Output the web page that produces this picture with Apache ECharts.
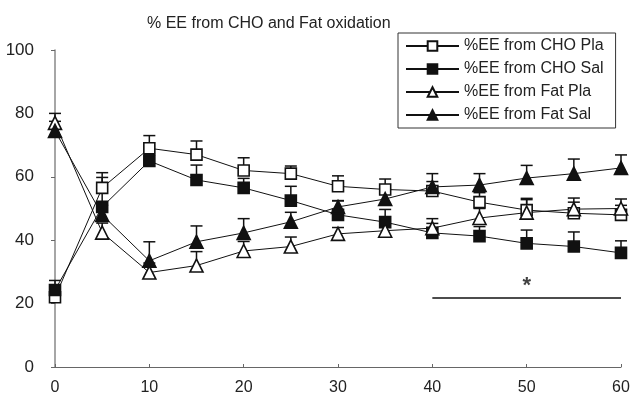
<!DOCTYPE html>
<html>
<head>
<meta charset="utf-8">
<script src="https://cdn.jsdelivr.net/npm/echarts@6/dist/echarts.min.js"></script>
<style>html,body{margin:0;padding:0;background:#fff;}#c{width:634px;height:398px;}</style>
</head>
<body>
<div id="c"></div>
<script>
const times = [0, 5, 10, 15, 20, 25, 30, 35, 40, 45, 50, 55, 60];
const choPla = [22, 56.5, 69, 67, 62, 61, 57, 56, 55.5, 52, 49.5, 48.5, 48];
const choSal = [24.3, 50.5, 65, 59, 56.5, 52.5, 48, 45.7, 42.3, 41.3, 39, 38, 36];
const fatPla = [77, 42.4, 29.8, 32, 36.6, 38, 42, 43, 43.8, 47, 48.7, 49.8, 50];
const fatSal = [74.5, 48, 33.5, 39.5, 42.3, 45.8, 50.5, 53, 56.8, 57.4, 59.6, 61, 62.8];
const choPlaErr = [3, 4.8, 4, 4.3, 4, 2.4, 3.3, 3.3, 3, 3, 3.3, 3.5, 3];
const choSalErr = [3, 9.3, 2, 4.7, 3, 4.5, 4.4, 4, 3, 3, 4.2, 4.6, 3.8];
const fatPlaErr = [3, 3, 3, 4.4, 3, 3, 2, 2, 3, 3, 4.5, 3.5, 3];
const fatSalErr = [3, 3, 6, 5, 4.5, 3, 2, 3, 4.2, 3.6, 4, 4.6, 4.1];
const seriesNames = ['%EE from CHO Pla', '%EE from CHO Sal', '%EE from Fat Pla', '%EE from Fat Sal'];
const sigBar = [[40, 21.8], [60, 21.8]];
const sigMark = [[50, 25.5]];
const xTicks = { min: 0, max: 60, interval: 10 };
const yTicks = { min: 0, max: 100, interval: 20 };

const FONT = '"Liberation Sans", Arial, sans-serif';
const INK = '#111';

function pts(vals) { return times.map((t, i) => [t, vals[i]]); }
function errPts(vals, errs) { return times.map((t, i) => [t, vals[i], errs[i]]); }

function errSeries(vals, errs) {
  return {
    type: 'custom',
    z: 1,
    silent: true,
    data: errPts(vals, errs),
    renderItem: function (params, api) {
      const x = api.value(0), y = api.value(1), e = api.value(2);
      const p0 = api.coord([x, y]);
      const p1 = api.coord([x, y + e]);
      const st = { stroke: INK, lineWidth: 1.5 };
      return {
        type: 'group',
        children: [
          { type: 'line', shape: { x1: p0[0], y1: p0[1], x2: p1[0], y2: p1[1] }, style: st },
          { type: 'line', shape: { x1: p1[0] - 6, y1: p1[1], x2: p1[0] + 6, y2: p1[1] }, style: st }
        ]
      };
    }
  };
}

function lineSeries(name, vals, symbol, size, filled) {
  return {
    name: name,
    type: 'line',
    z: 3,
    data: pts(vals),
    symbol: symbol,
    symbolSize: size,
    showAllSymbol: true,
    lineStyle: { color: INK, width: 1 },
    itemStyle: { color: filled ? INK : '#fff', borderColor: INK, borderWidth: 1.6 },
    emphasis: { disabled: true },
    animation: false
  };
}

const chart = echarts.init(document.getElementById('c'), null, { renderer: 'canvas' });
chart.setOption({
  animation: false,
  title: {
    text: '% EE from CHO and Fat oxidation',
    left: 142,
    top: 11,
    textStyle: { fontFamily: FONT, fontSize: 16, fontWeight: 'normal', color: '#222' }
  },
  legend: {
    data: seriesNames,
    orient: 'vertical',
    left: 398,
    top: 33,
    padding: [5, 12, 5, 7],
    itemGap: 7,
    itemWidth: 53,
    itemHeight: 12,
    borderColor: '#333',
    borderWidth: 1,
    borderRadius: 0,
    textStyle: { fontFamily: FONT, fontSize: 16, color: '#222', lineHeight: 16 }
  },
  grid: { left: 55, right: 13, top: 50, bottom: 31, containLabel: false },
  xAxis: {
    type: 'value',
    min: xTicks.min, max: xTicks.max, interval: xTicks.interval,
    axisLine: { show: true, lineStyle: { color: '#666', width: 1 } },
    axisTick: { show: true, inside: true, length: 3, lineStyle: { color: '#666' } },
    axisLabel: { fontFamily: FONT, fontSize: 16, color: '#222', margin: 13 },
    splitLine: { show: false }
  },
  yAxis: {
    type: 'value',
    min: yTicks.min, max: yTicks.max, interval: yTicks.interval,
    axisLine: { show: true, lineStyle: { color: '#888', width: 1.5 } },
    axisTick: { show: true, length: 4, lineStyle: { color: '#666' } },
    axisLabel: { fontFamily: FONT, fontSize: 17, color: '#222', margin: 21 },
    splitLine: { show: false }
  },
  series: [
    errSeries(choPla, choPlaErr),
    errSeries(choSal, choSalErr),
    errSeries(fatPla, fatPlaErr),
    errSeries(fatSal, fatSalErr),
    lineSeries(seriesNames[0], choPla, 'rect', 11, false),
    lineSeries(seriesNames[1], choSal, 'rect', 11, true),
    lineSeries(seriesNames[2], fatPla, 'triangle', 13, false),
    lineSeries(seriesNames[3], fatSal, 'triangle', 13, true),
    {
      type: 'line', data: sigBar, symbol: 'none', silent: true,
      lineStyle: { color: INK, width: 1.5 }, z: 2
    },
    {
      type: 'scatter', data: sigMark, symbolSize: 0, silent: true,
      label: { show: true, formatter: '*', position: 'inside', fontFamily: FONT, fontSize: 22, fontWeight: 'bold', color: INK }
    }
  ]
});
</script>
</body>
</html>
